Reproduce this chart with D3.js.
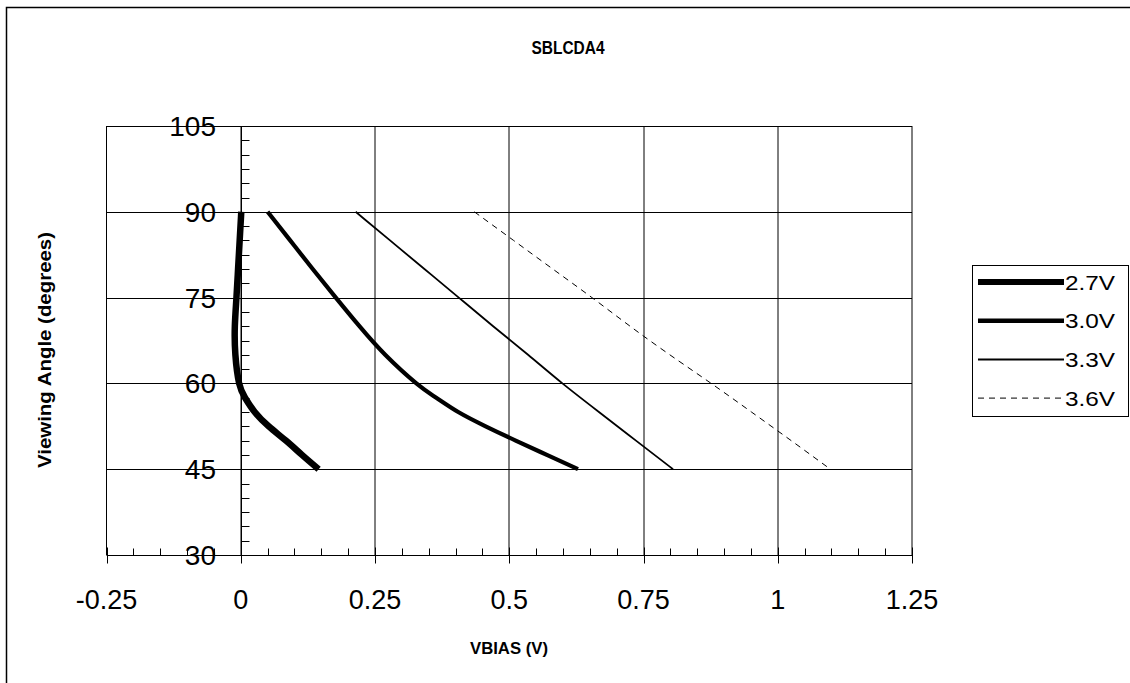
<!DOCTYPE html>
<html><head><meta charset="utf-8">
<script src="https://cdn.jsdelivr.net/npm/d3@7"></script>
<style>html,body{margin:0;background:#fff;overflow:hidden} svg{display:block} text{font-family:"Liberation Sans",Arial,sans-serif;fill:#000}</style>
</head><body><svg id="c" width="1130" height="683"></svg>
<script>
const title = "SBLCDA4";
const xTitle = "VBIAS (V)";
const yTitle = "Viewing Angle (degrees)";
const xTicks = [-0.25, 0, 0.25, 0.5, 0.75, 1, 1.25];
const xTickLabels = ["-0.25", "0", "0.25", "0.5", "0.75", "1", "1.25"];
const yTicks = [30, 45, 60, 75, 90, 105];
const seriesNames = ["2.7V", "3.0V", "3.3V", "3.6V"];
const angles27 = [90, 85, 80, 75, 70, 65, 60, 57.5, 55, 52.5, 50, 47.5, 45];
const bias27   = [0.001, -0.002, -0.005, -0.008, -0.011, -0.010, -0.003, 0.008, 0.026, 0.052, 0.084, 0.114, 0.145];
const angles30 = [90, 85, 80, 75, 70, 65, 60, 57.5, 55, 52.5, 50, 47.5, 45];
const bias30   = [0.050, 0.092, 0.134, 0.177, 0.221, 0.269, 0.327, 0.364, 0.405, 0.456, 0.512, 0.570, 0.628];
const angles33 = [90, 85, 80, 75, 70, 65, 60, 55, 50, 45];
const bias33   = [0.214, 0.278, 0.342, 0.406, 0.470, 0.535, 0.599, 0.667, 0.736, 0.805];
const angles36 = [90, 85, 80, 75, 70, 65, 60, 55, 50, 45];
const bias36   = [0.435, 0.508, 0.581, 0.654, 0.725, 0.799, 0.876, 0.951, 1.025, 1.098];

const svg = d3.select("#c");
const L = 106.5, R = 912, T = 126, B = 555;
const x = d3.scaleLinear().domain([-0.25, 1.25]).range([L, R]);
const y = d3.scaleLinear().domain([30, 105]).range([B, T]);

// outer frame
svg.append("rect").attr("x", 6.5).attr("y", 7.5).attr("width", 1200).attr("height", 800)
  .attr("fill", "#fff").attr("stroke", "#000").attr("stroke-width", 1.5);

// title
svg.append("text").attr("x", 568).attr("y", 54).attr("text-anchor", "middle")
  .attr("font-size", 18).attr("font-weight", "bold")
  .attr("textLength", 73).attr("lengthAdjust", "spacingAndGlyphs").text(title);

// gridlines
const g = svg.append("g");
g.selectAll("line.hg").data(yTicks.filter(d => d > 30)).enter().append("line")
  .attr("x1", L).attr("x2", R).attr("y1", d => Math.round(y(d)) + 0.5).attr("y2", d => Math.round(y(d)) + 0.5)
  .attr("stroke", "#000").attr("stroke-width", 1);
g.selectAll("line.vg").data(xTicks.filter(d => d > -0.25)).enter().append("line")
  .attr("x1", d => Math.round(x(d))).attr("x2", d => Math.round(x(d))).attr("y1", T).attr("y2", B)
  .attr("stroke", "#000").attr("stroke-width", 1);
g.append("line").attr("x1", L).attr("x2", L).attr("y1", T).attr("y2", B).attr("stroke", "#000");

// x axis at y=30
const x0 = Math.round(x(0));
const yb = Math.round(y(30)) + 0.5;
g.append("line").attr("x1", L).attr("x2", R).attr("y1", yb).attr("y2", yb).attr("stroke", "#000");
const xMinor = d3.range(-0.25, 1.2501, 0.05);
g.selectAll("line.xm").data(xMinor).enter().append("line")
  .attr("x1", d => Math.round(x(d)) + 0.5).attr("x2", d => Math.round(x(d)) + 0.5)
  .attr("y1", yb - 7).attr("y2", yb).attr("stroke", "#000");
g.selectAll("line.xM").data(xTicks).enter().append("line")
  .attr("x1", d => Math.round(x(d)) + 0.5).attr("x2", d => Math.round(x(d)) + 0.5)
  .attr("y1", yb - 8).attr("y2", yb + 8).attr("stroke", "#000");
svg.selectAll("text.xt").data(xTicks).enter().append("text")
  .attr("x", d => x(d)).attr("y", 609).attr("text-anchor", "middle")
  .attr("font-size", 27).text((d, i) => xTickLabels[i]);

// y axis at x=0
const ya = x0 + 0.5;
g.append("line").attr("x1", ya).attr("x2", ya).attr("y1", T).attr("y2", B).attr("stroke", "#000");
const yMinor = d3.range(30, 105.01, 2.5);
g.selectAll("line.ym").data(yMinor).enter().append("line")
  .attr("x1", ya).attr("x2", ya + 8)
  .attr("y1", d => Math.round(y(d)) + 0.5).attr("y2", d => Math.round(y(d)) + 0.5).attr("stroke", "#000");
g.selectAll("line.yM").data(yTicks).enter().append("line")
  .attr("x1", ya - 8).attr("x2", ya + 8)
  .attr("y1", d => Math.round(y(d)) + 0.5).attr("y2", d => Math.round(y(d)) + 0.5).attr("stroke", "#000");
svg.selectAll("text.yt").data(yTicks).enter().append("text")
  .attr("x", 216).attr("y", d => y(d) + 10).attr("text-anchor", "end")
  .attr("font-size", 28).text(d => d);

// axis titles
svg.append("text").attr("x", 509).attr("y", 654).attr("text-anchor", "middle")
  .attr("font-size", 16).attr("font-weight", "bold")
  .attr("textLength", 78).attr("lengthAdjust", "spacingAndGlyphs").text(xTitle);
svg.append("text").attr("transform", "translate(51,350) rotate(-90)").attr("text-anchor", "middle")
  .attr("font-size", 18).attr("font-weight", "bold")
  .attr("textLength", 236).attr("lengthAdjust", "spacingAndGlyphs").text(yTitle);

// series
const series = [
  {name: seriesNames[0], a: angles27, b: bias27, w: 6.5, lw: 6, dash: null},
  {name: seriesNames[1], a: angles30, b: bias30, w: 4.2, lw: 4.5, dash: null},
  {name: seriesNames[2], a: angles33, b: bias33, w: 1.8, lw: 2, dash: null},
  {name: seriesNames[3], a: angles36, b: bias36, w: 1, lw: 1, dash: "6,5"},
];
const line = d3.line().x(d => x(d[0])).y(d => y(d[1])).curve(d3.curveNatural);
series.forEach(s => {
  svg.append("path").datum(s.b.map((v, i) => [v, s.a[i]]))
    .attr("d", line).attr("fill", "none").attr("stroke", "#000")
    .attr("stroke-width", s.w).attr("stroke-dasharray", s.dash);
});

// legend
const lg = svg.append("g");
lg.append("rect").attr("x", 972.5).attr("y", 265.5).attr("width", 156).attr("height", 151)
  .attr("fill", "#fff").attr("stroke", "#000");
series.forEach((s, i) => {
  const ly = 282 + i * 38.7;
  lg.append("line").attr("x1", 978).attr("x2", 1064).attr("y1", ly).attr("y2", ly)
    .attr("stroke", "#000").attr("stroke-width", s.lw).attr("stroke-dasharray", s.dash);
  lg.append("text").attr("x", 1065).attr("y", ly + 7.5).attr("font-size", 20)
    .attr("textLength", 50).attr("lengthAdjust", "spacingAndGlyphs").text(s.name);
});
</script></body></html>
